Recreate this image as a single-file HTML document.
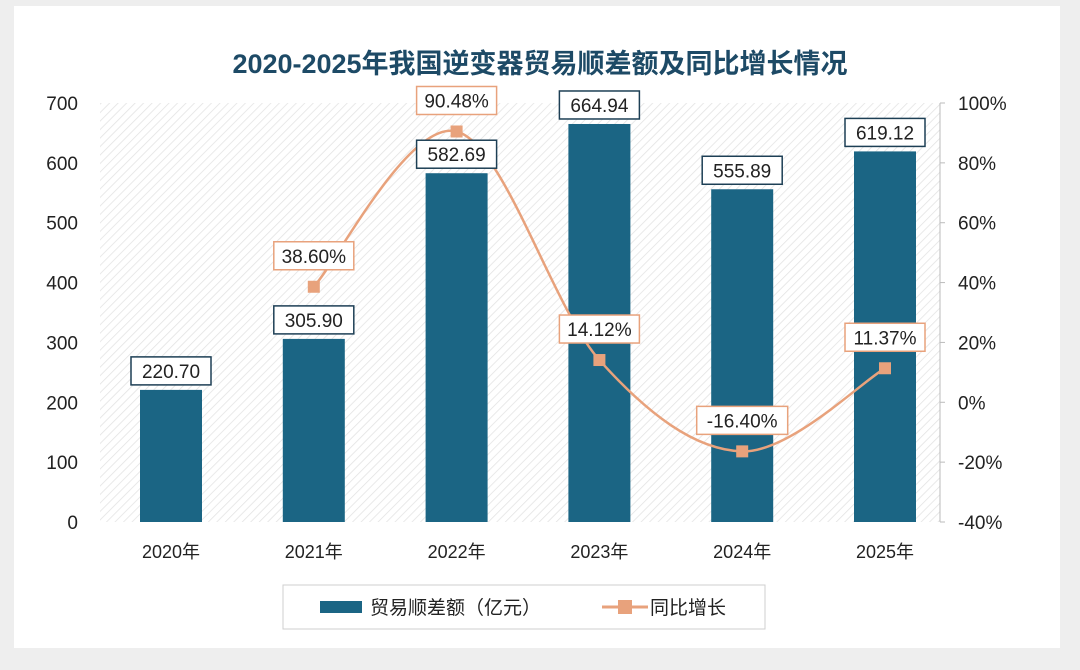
<!DOCTYPE html>
<html><head><meta charset="utf-8">
<style>
html,body{margin:0;padding:0;background:#eeeeee;}
body{width:1080px;height:665px;overflow:hidden;font-family:"Liberation Sans","Noto Sans CJK SC",sans-serif;}
</style></head>
<body>
<svg id="chart" width="1080" height="665" xmlns="http://www.w3.org/2000/svg" font-family="Liberation Sans, Noto Sans CJK SC, sans-serif">
<defs>
<pattern id="hatch" width="6" height="6" patternUnits="userSpaceOnUse" patternTransform="rotate(45)">
<rect width="6" height="6" fill="#ffffff"/>
<line x1="0" y1="0" x2="0" y2="6" stroke="#e2e2e2" stroke-width="1.5"/>
</pattern>
</defs>
<rect x="14" y="6" width="1046" height="642" fill="#ffffff"/>
<text x="540" y="73" text-anchor="middle" font-size="27" font-weight="bold" fill="#1d4a66">2020-2025年我国逆变器贸易顺差额及同比增长情况</text>
<rect x="100" y="103" width="840" height="419" fill="url(#hatch)"/>
<g id="axes"></g>
<g id="bars"></g>
<g id="line"></g>
<g id="labels"></g>
<rect x="283" y="585" width="482" height="44" fill="#fff" stroke="#cfcfcf"/>
<rect x="320" y="601" width="42" height="12" fill="#1b6584"/>
<text x="370" y="614" font-size="19" fill="#222">贸易顺差额（亿元）</text>
<line x1="602" y1="607" x2="648" y2="607" stroke="#e8a27c" stroke-width="3"/>
<rect x="618" y="600" width="14" height="14" fill="#e8a27c"/>
<text x="650" y="614" font-size="19" fill="#222">同比增长</text>
</svg>
<script>
const categories=["2020年","2021年","2022年","2023年","2024年","2025年"];
const tradeSurplus=[220.70,305.90,582.69,664.94,555.89,619.12];
const growth=[null,38.60,90.48,14.12,-16.40,11.37];
const leftTicks=[0,100,200,300,400,500,600,700];
const rightTicks=[-40,-20,0,20,40,60,80,100];
const NS="http://www.w3.org/2000/svg";
const yTop=103,yBot=522,bandStart=99.6,bandW=142.8;
function xS(i){return bandStart+(i+0.5)*bandW;}
function yL(v){return yBot-(v/700)*(yBot-yTop);}
function yR(v){return yBot-((v+40)/140)*(yBot-yTop);}
function mk(tag,attrs,parent){const e=document.createElementNS(NS,tag);for(const k in attrs)e.setAttribute(k,attrs[k]);parent.appendChild(e);return e;}
const axes=document.getElementById('axes'),bars=document.getElementById('bars'),line=document.getElementById('line'),labels=document.getElementById('labels');
leftTicks.forEach(t=>{const e=mk('text',{x:78,y:yL(t)+7,'text-anchor':'end','font-size':19,fill:'#222'},axes);e.textContent=t;

});
rightTicks.forEach(t=>{const e=mk('text',{x:958,y:yR(t)+7,'font-size':19,fill:'#222'},axes);e.textContent=t+'%';


const tk=mk('line',{x1:940,x2:945,y1:yR(t),y2:yR(t),stroke:'#bbb'},axes);

});
const ax=mk('line',{x1:940,x2:940,y1:yTop,y2:yBot,stroke:'#bbb'},axes);


categories.forEach((c,i)=>{const e=mk('text',{x:xS(i),y:558,'text-anchor':'middle','font-size':18,fill:'#222'},axes);e.textContent=c;

});
function box(cx,cy,txt,stroke,name){const w=txt.length*11+14;
const r=mk('rect',{x:cx-w/2,y:cy-14,width:w,height:28,fill:'#fff',stroke:stroke,'stroke-width':1.5},labels);


const t=mk('text',{x:cx,y:cy+7,'text-anchor':'middle','font-size':19,fill:'#222'},labels);t.textContent=txt;

}
tradeSurplus.forEach((v,i)=>{const bw=62;
const b=mk('rect',{x:xS(i)-bw/2,y:yL(v),width:bw,height:yBot-yL(v),fill:'#1b6584'},bars);


box(xS(i),yL(v)-19,v.toFixed(2),'#1d3f55','bar-value-label');});
const pts=[];growth.forEach((g,i)=>{if(g!==null)pts.push([xS(i),yR(g),g]);});
let d='M'+pts[0][0]+','+pts[0][1];
for(let k=0;k<pts.length-1;k++){const p0=pts[Math.max(k-1,0)],p1=pts[k],p2=pts[k+1],p3=pts[Math.min(k+2,pts.length-1)];
d+=' C'+(p1[0]+(p2[0]-p0[0])/6)+','+(p1[1]+(p2[1]-p0[1])/6)+' '+(p2[0]-(p3[0]-p1[0])/6)+','+(p2[1]-(p3[1]-p1[1])/6)+' '+p2[0]+','+p2[1];}
const pth=mk('path',{d:d,fill:'none',stroke:'#e8a27c','stroke-width':2.5},line);


pts.forEach(p=>{const m=mk('rect',{x:p[0]-6,y:p[1]-6,width:12,height:12,fill:'#e8a27c'},line);


box(p[0],p[1]-31,p[2].toFixed(2)+'%','#e8a27c','growth-value-label');});
</script>
</body></html>
